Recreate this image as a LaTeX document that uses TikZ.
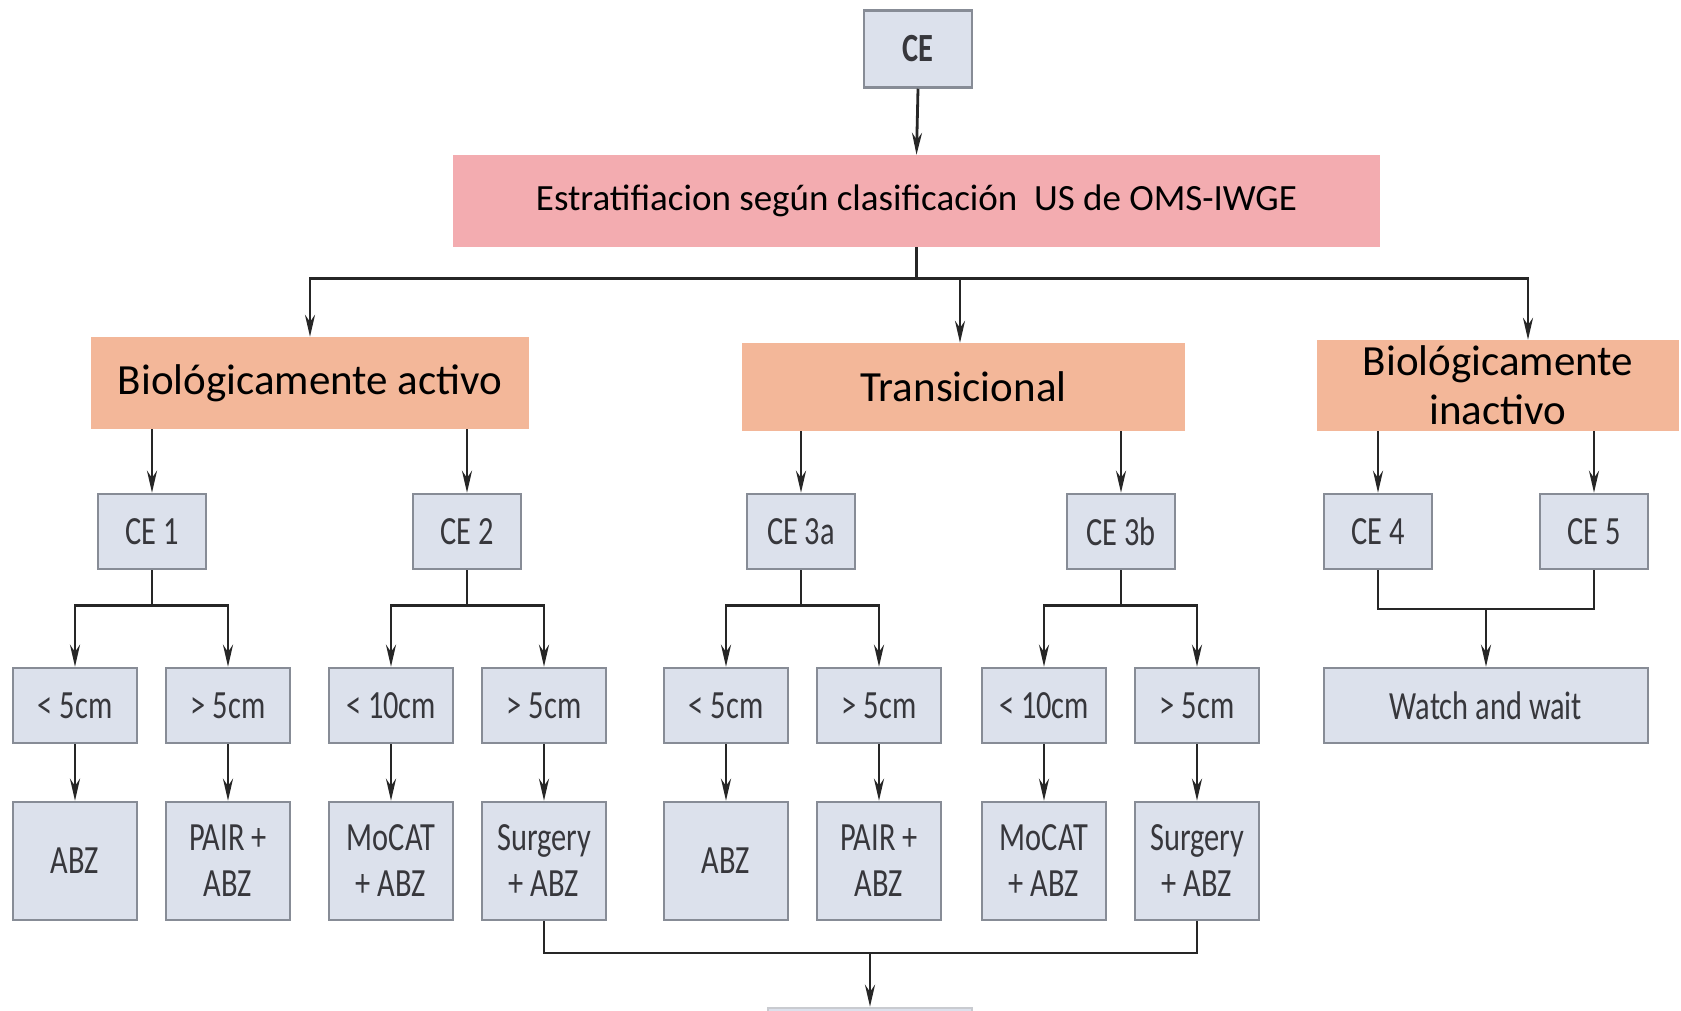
\documentclass[tikz,border=0pt]{standalone}
\usepackage{fontspec}
\setmainfont{Carlito}
\newfontfamily\narrowfont[FakeStretch=0.76]{Carlito}
\usetikzlibrary{arrows.meta, positioning}

\definecolor{stratpink}{RGB}{243,172,176}
\definecolor{grouporange}{RGB}{243,183,153}
\definecolor{boxgray}{RGB}{220,225,236}
\definecolor{edgegray}{RGB}{135,140,150}
\definecolor{textgray}{RGB}{55,55,60}

\begin{document}
\begin{tikzpicture}[x=1pt, y=1pt,
                    stage/.style={rectangle, draw=edgegray, fill=boxgray, line width=2.5pt, inner sep=0pt, align=center, text=textgray, font={\narrowfont\fontsize{40}{46}\selectfont}},
                    cebox/.style={stage, minimum width=108pt, minimum height=75pt},
                    sizebox/.style={stage, minimum width=124pt, minimum height=75pt},
                    treatbox/.style={stage, minimum width=124pt, minimum height=118pt},
                    group/.style={rectangle, fill=grouporange, inner sep=0pt, align=center, font={\fontsize{43}{49}\selectfont}},
                    line/.style={line width=2.8pt, black!85},
                    arr/.style={line, -{Stealth[length=22pt, width=10pt]}}]

\useasboundingbox (0,0) rectangle (1681,-1010);

% Top of the tree
\node[cebox, minimum height=77pt, font={\narrowfont\bfseries\fontsize{40}{46}\selectfont}] (ce) at (918,-49) {CE};
\node[rectangle, fill=stratpink, minimum width=927pt, minimum height=92pt, font={\fontsize{37}{42}\selectfont}] (strat) at (916.5,-201) {Estratifiacion según clasificación~ US de OMS-IWGE};

% Place the three groups
\node[group, minimum width=438pt, minimum height=92pt] (activo) at (310,-383) {Biológicamente activo};
\node[group, minimum width=443pt, minimum height=88pt] (trans) at (963.5,-387) {Transicional};
\node[group, minimum width=362pt, minimum height=91pt] (inact) at (1498,-385.5) {Biológicamente\\inactivo};

% CE stages
\node[cebox] (ce1) at (152,-531.5) {CE 1};
\node[cebox] (ce2) at (467,-531.5) {CE 2};
\node[cebox] (ce3a) at (801,-531.5) {CE 3a};
\node[cebox] (ce3b) at (1121,-531.5) {CE 3b};
\node[cebox] (ce4) at (1378,-531.5) {CE 4};
\node[cebox] (ce5) at (1594,-531.5) {CE 5};

% Cyst size
\node[sizebox] (s1) at (75,-705.5) {< 5cm};
\node[sizebox] (s2) at (228,-705.5) {> 5cm};
\node[sizebox] (s3) at (391,-705.5) {< 10cm};
\node[sizebox] (s4) at (544,-705.5) {> 5cm};
\node[sizebox] (s5) at (726,-705.5) {< 5cm};
\node[sizebox] (s6) at (879,-705.5) {> 5cm};
\node[sizebox] (s7) at (1044,-705.5) {< 10cm};
\node[sizebox] (s8) at (1197,-705.5) {> 5cm};
\node[sizebox, minimum width=324pt] (watch) at (1486,-705.5) {Watch and wait};

% Treatments
\node[treatbox] (t1) at (75,-861) {ABZ};
\node[treatbox] (t2) at (228,-861) {PAIR +\\ABZ};
\node[treatbox] (t3) at (391,-861) {MoCAT\\+ ABZ};
\node[treatbox] (t4) at (544,-861) {Surgery\\+ ABZ};
\node[treatbox] (t5) at (726,-861) {ABZ};
\node[treatbox] (t6) at (879,-861) {PAIR +\\ABZ};
\node[treatbox] (t7) at (1044,-861) {MoCAT\\+ ABZ};
\node[treatbox] (t8) at (1197,-861) {Surgery\\+ ABZ};
\node[stage, draw=edgegray!45, minimum width=204pt, minimum height=60pt] (next) at (870,-1038) {};

% Connectors
\draw[arr] (ce.south) -- (strat.north);
\draw[line] (strat.south) -- ++(0,-31) coordinate (j0);
\draw[arr] (j0) -| (activo.north);
\draw[arr] (j0) -| ([xshift=-3.5pt]trans.north);
\draw[arr] (j0) -| ([xshift=30pt]inact.north);

\draw[arr] (activo.south -| ce1.north) -- (ce1.north);
\draw[arr] (activo.south -| ce2.north) -- (ce2.north);
\draw[arr] (trans.south -| ce3a.north) -- (ce3a.north);
\draw[arr] (trans.south -| ce3b.north) -- (ce3b.north);
\draw[arr] (inact.south -| ce4.north) -- (ce4.north);
\draw[arr] (inact.south -| ce5.north) -- (ce5.north);

\foreach \c/\a/\b in {ce1/s1/s2, ce2/s3/s4, ce3a/s5/s6, ce3b/s7/s8} {
  \draw[arr] (\c.south) -- ++(0,-35) -| (\a.north);
  \draw[arr] (\c.south) -- ++(0,-35) -| (\b.north);
}
\coordinate (j45) at (watch.north |- 0,-609);
\draw[line] (ce4.south) |- (j45) -| (ce5.south);
\draw[arr] (j45) -- (watch.north);

\foreach \i in {1,...,8}
  \draw[arr] (s\i.south) -- (t\i.north);

\coordinate (jb) at (870,-953);
\draw[line] (t4.south) |- (jb) -| (t8.south);
\draw[arr] (jb) -- (next.north);

\end{tikzpicture}
\end{document}
